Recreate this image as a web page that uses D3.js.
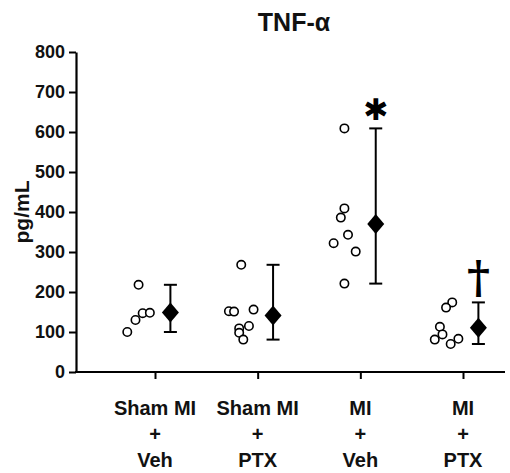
<!DOCTYPE html>
<html>
<head>
<meta charset="utf-8">
<script src="https://cdn.jsdelivr.net/npm/d3@7"></script>
<style>
  html, body { margin: 0; padding: 0; background: #fff; }
  svg { display: block; font-family: "Liberation Sans", Arial, Helvetica, sans-serif; }
</style>
</head>
<body>
<svg id="chart" width="510" height="473"></svg>
<script>
// ---- data ----
const categories = ["Sham MI + Veh", "Sham MI + PTX", "MI + Veh", "MI + PTX"];
const categoryLines = [["Sham MI", "+", "Veh"], ["Sham MI", "+", "PTX"], ["MI", "+", "Veh"], ["MI", "+", "PTX"]];
const shamVeh = [100, 130, 147, 148, 218];
const shamPtx = [268, 152, 151, 156, 115, 109, 98, 81];
const miVeh = [609, 409, 386, 343, 322, 301, 221];
const miPtx = [174, 161, 113, 94, 81, 70, 83];
// horizontal scatter of the individual points, in units of the category step
const jitterShamVeh = [-0.27, -0.19, -0.12, -0.05, -0.16];
const jitterShamPtx = [-0.16, -0.28, -0.23, -0.04, -0.085, -0.18, -0.18, -0.14];
const jitterMiVeh = [-0.155, -0.155, -0.19, -0.12, -0.26, -0.045, -0.155];
const jitterMiPtx = [-0.105, -0.165, -0.225, -0.2, -0.275, -0.12, -0.045];
const yTicks = [0, 100, 200, 300, 400, 500, 600, 700, 800];
const significance = ["", "", "✱", "†"];
const title = "TNF-α";
const yLabel = "pg/mL";

const series = [shamVeh, shamPtx, miVeh, miPtx];
const jitters = [jitterShamVeh, jitterShamPtx, jitterMiVeh, jitterMiPtx];

// ---- layout ----
const svg = d3.select("#chart");
const axisLeftX = 76, axisRightX = 505, y0 = 372, yTop = 52;

const x = d3.scalePoint().domain(categories).range([155, 463]);
const step = x.step();
const y = d3.scaleLinear().domain([0, 800]).range([y0, yTop]);

// y axis
const yAxis = svg.append("g")
  .attr("transform", `translate(${axisLeftX},0)`)
  .call(d3.axisLeft(y).tickValues(yTicks).tickSize(7).tickPadding(4).tickSizeOuter(0));
yAxis.select(".domain").attr("stroke", "#000").attr("stroke-width", 2.2);
yAxis.selectAll(".tick line").attr("stroke", "#000").attr("stroke-width", 2);
yAxis.selectAll(".tick text")
  .attr("font-size", 18).attr("font-weight", "bold").attr("fill", "#111")
  .attr("font-family", "'Liberation Sans', Arial, sans-serif");

// x axis
const xAxis = svg.append("g")
  .attr("transform", `translate(0,${y0})`)
  .call(d3.axisBottom(x).tickSize(7).tickFormat(""));
xAxis.select(".domain").remove();
xAxis.selectAll(".tick line").attr("stroke", "#000").attr("stroke-width", 2);
svg.append("line")
  .attr("x1", axisLeftX - 1).attr("x2", axisRightX)
  .attr("y1", y0).attr("y2", y0)
  .attr("stroke", "#000").attr("stroke-width", 2.2);

// x category labels
categories.forEach((c, i) => {
  const t = svg.append("text")
    .attr("x", x(c)).attr("text-anchor", "middle")
    .attr("font-size", 20).attr("font-weight", "bold").attr("fill", "#111");
  categoryLines[i].forEach((line, k) => {
    t.append("tspan").attr("x", x(c)).attr("y", 415 + k * 26).text(line);
  });
});

// title
svg.append("text")
  .attr("x", 294).attr("y", 31).attr("text-anchor", "middle")
  .attr("font-size", 25).attr("font-weight", "bold").attr("fill", "#111")
  .text(title);

// y label
svg.append("text")
  .attr("transform", `translate(29,${(y0 + yTop) / 2}) rotate(-90)`)
  .attr("text-anchor", "middle")
  .attr("font-size", 21).attr("font-weight", "bold").attr("fill", "#111")
  .text(yLabel);

// groups
const meanOffset = 0.15 * step;
series.forEach((vals, i) => {
  const cx = x(categories[i]);
  const g = svg.append("g");
  // individual points
  g.selectAll("circle").data(vals).enter().append("circle")
    .attr("cx", (d, k) => cx + jitters[i][k] * step)
    .attr("cy", d => y(d))
    .attr("r", 4.2)
    .attr("fill", "#fff").attr("stroke", "#000").attr("stroke-width", 1.6);
  // range bar
  const [mn, mx] = d3.extent(vals);
  const m = d3.mean(vals);
  const bx = cx + meanOffset;
  g.append("line").attr("x1", bx).attr("x2", bx).attr("y1", y(mn)).attr("y2", y(mx))
    .attr("stroke", "#000").attr("stroke-width", 2);
  [mn, mx].forEach(v => g.append("line")
    .attr("x1", bx - 6.5).attr("x2", bx + 6.5).attr("y1", y(v)).attr("y2", y(v))
    .attr("stroke", "#000").attr("stroke-width", 2));
  // mean diamond
  const my = y(m);
  g.append("path")
    .attr("d", `M${bx},${my - 10} L${bx + 8.5},${my} L${bx},${my + 10} L${bx - 8.5},${my} Z`)
    .attr("fill", "#000");
  // significance markers
  if (significance[i] === "✱") {
    g.append("text").attr("x", bx).attr("y", y(mx) - 8)
      .attr("text-anchor", "middle").attr("font-size", 30)
      .attr("font-family", "'DejaVu Sans', sans-serif").attr("fill", "#000")
      .text(significance[i]);
  } else if (significance[i] === "†") {
    g.append("text").attr("x", bx).attr("y", y(mx) - 9)
      .attr("text-anchor", "middle").attr("font-size", 44).attr("font-weight", "bold")
      .attr("font-family", "'DejaVu Serif', serif").attr("fill", "#000")
      .text(significance[i]);
  }
});
</script>
</body>
</html>
